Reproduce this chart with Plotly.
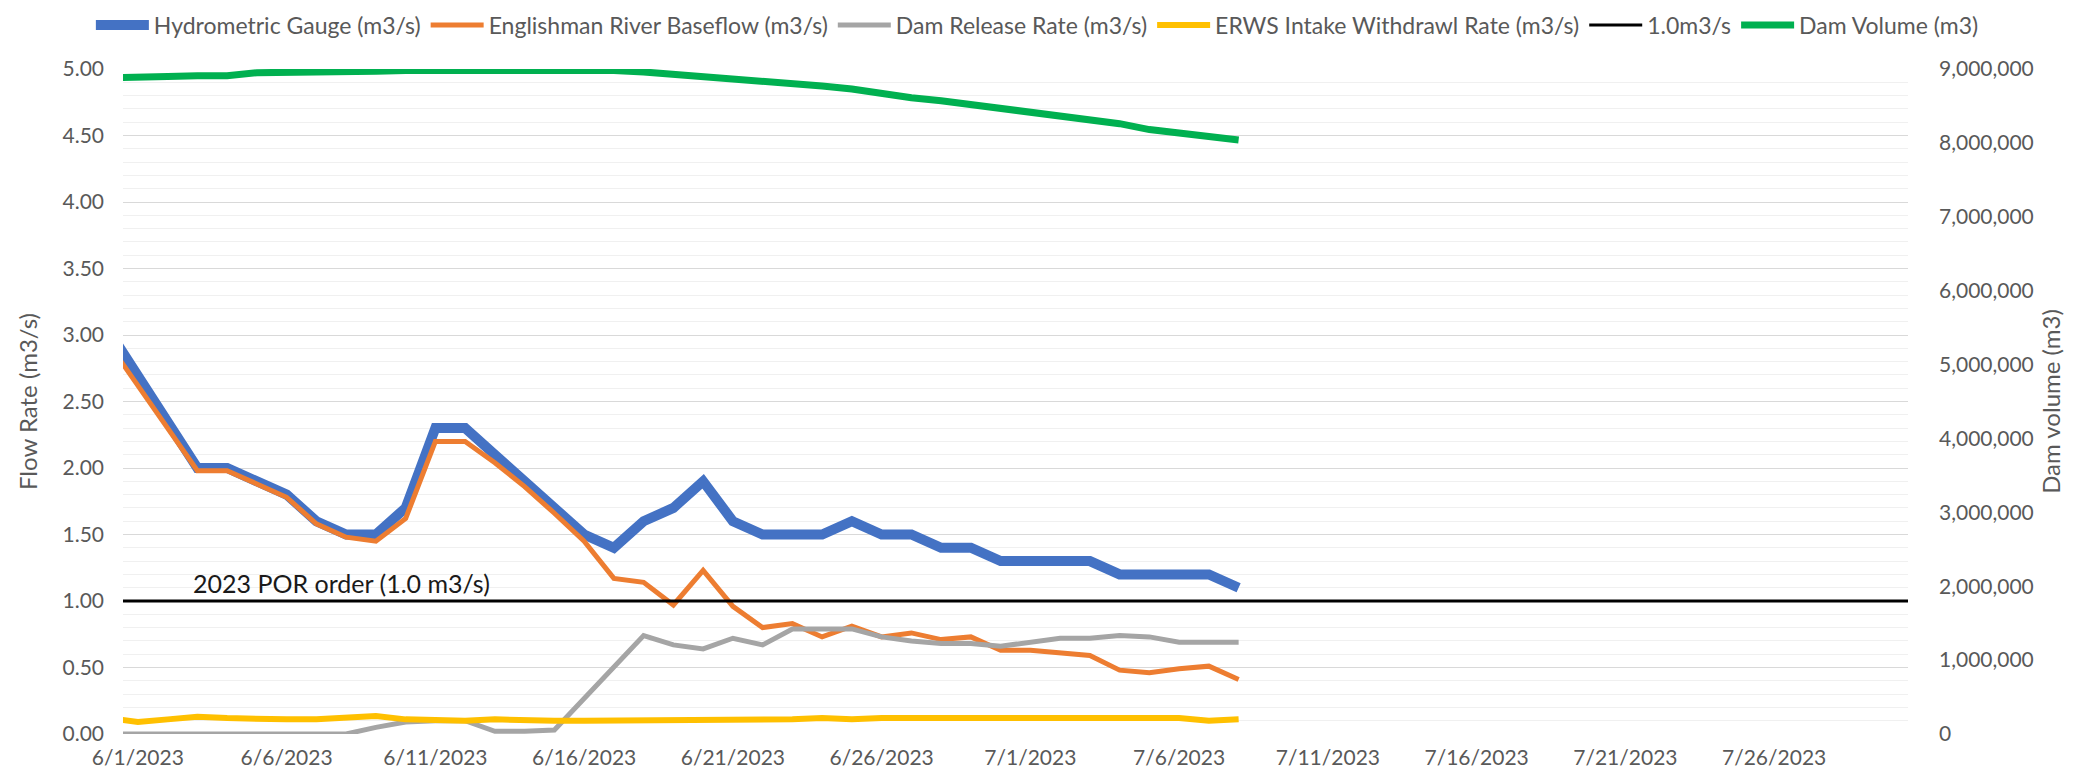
import pandas as pd
import plotly.graph_objects as go

# ---- data ----
dates = pd.date_range("2023-05-31", "2023-07-08", freq="D")

hydrometric = [3.04, 2.70, 2.35, 2.00, 2.00, 1.90, 1.80, 1.60, 1.50, 1.50,
               1.70, 2.30, 2.30, 2.10, 1.90, 1.70, 1.50, 1.40, 1.60, 1.70,
               1.90, 1.60, 1.50, 1.50, 1.50, 1.60, 1.50, 1.50, 1.40, 1.40,
               1.30, 1.30, 1.30, 1.30, 1.20, 1.20, 1.20, 1.20, 1.10]

baseflow = [2.94, 2.62, 2.30, 1.98, 1.98, 1.88, 1.78, 1.58, 1.48, 1.45,
            1.62, 2.20, 2.20, 2.04, 1.86, 1.66, 1.45, 1.17, 1.14, 0.97,
            1.23, 0.96, 0.80, 0.83, 0.73, 0.81, 0.73, 0.76, 0.71, 0.73,
            0.63, 0.63, 0.61, 0.59, 0.48, 0.46, 0.49, 0.51, 0.41]

dam_release = [0.00, 0.00, 0.00, 0.00, 0.00, 0.00, 0.00, 0.00, 0.00, 0.05,
               0.09, 0.10, 0.10, 0.02, 0.02, 0.03, 0.27, 0.50, 0.74, 0.67,
               0.64, 0.72, 0.67, 0.79, 0.79, 0.79, 0.73, 0.70, 0.68, 0.68,
               0.66, 0.69, 0.72, 0.72, 0.74, 0.73, 0.69, 0.69, 0.69]

intake = [0.12, 0.09, 0.11, 0.13, 0.12, 0.11, 0.11, 0.11, 0.12, 0.135,
          0.11, 0.10, 0.10, 0.11, 0.10, 0.10, 0.10, 0.10, 0.11, 0.10,
          0.10, 0.11, 0.11, 0.11, 0.12, 0.11, 0.12, 0.12, 0.12, 0.13,
          0.12, 0.13, 0.12, 0.12, 0.12, 0.13, 0.12, 0.10, 0.11]

dam_volume = [8.88e6, 8.88e6, 8.90e6, 8.91e6, 8.91e6, 8.95e6, 8.95e6, 8.95e6, 8.96e6, 8.97e6,
              8.98e6, 8.98e6, 8.98e6, 8.98e6, 8.99e6, 8.99e6, 8.99e6, 8.98e6, 8.96e6, 8.93e6,
              8.90e6, 8.88e6, 8.85e6, 8.81e6, 8.77e6, 8.73e6, 8.66e6, 8.61e6, 8.57e6, 8.52e6,
              8.47e6, 8.40e6, 8.35e6, 8.31e6, 8.26e6, 8.18e6, 8.13e6, 8.10e6, 8.04e6]

threshold_dates = ["2023-05-31", "2023-07-31"]
threshold_values = [1.0, 1.0]

names = ["Hydrometric Gauge (m3/s)", "Englishman River Baseflow (m3/s)",
         "Dam Release Rate (m3/s)", "ERWS Intake Withdrawl Rate (m3/s)",
         "1.0m3/s", "Dam Volume (m3)"]

FONT = "Lato"
GREY_TXT = "#595959"

fig = go.Figure()
fig.add_trace(go.Scatter(x=dates, y=hydrometric, name=names[0], mode="lines",
                         line=dict(color="#4472C4", width=10)))
fig.add_trace(go.Scatter(x=dates, y=baseflow, name=names[1], mode="lines",
                         line=dict(color="#ED7D31", width=5)))
fig.add_trace(go.Scatter(x=dates, y=dam_release, name=names[2], mode="lines",
                         line=dict(color="#A5A5A5", width=5)))
fig.add_trace(go.Scatter(x=dates, y=intake, name=names[3], mode="lines",
                         line=dict(color="#FFC000", width=6)))
fig.add_trace(go.Scatter(x=threshold_dates, y=threshold_values, name=names[4], mode="lines",
                         line=dict(color="#000000", width=3)))
fig.add_trace(go.Scatter(x=dates, y=dam_volume, name=names[5], mode="lines", yaxis="y2",
                         line=dict(color="#00B050", width=7)))

fig.add_annotation(text="2023 POR order (1.0 m3/s)", xref="paper", x=0.038, xanchor="left",
                   yref="y", y=1.0, yanchor="bottom", yshift=1, showarrow=False,
                   font=dict(family=FONT, size=25, color="#1a1a1a"))

# the page body adds an 8px offset, so the figure is 8px smaller and margins shifted
fig.update_layout(
    width=2073, height=769,
    margin=dict(l=115, r=173, t=61, b=43, autoexpand=False),
    paper_bgcolor="white", plot_bgcolor="white",
    font=dict(family=FONT, size=21, color=GREY_TXT),
    showlegend=True,
    legend=dict(orientation="h", xref="paper", yref="paper",
                x=-0.018, xanchor="left", y=1.0662, yanchor="middle",
                itemwidth=53,
                font=dict(family=FONT, size=23, color=GREY_TXT),
                bgcolor="rgba(0,0,0,0)"),
    xaxis=dict(type="date", range=["2023-05-31 12:00", "2023-07-30 12:00"],
               tick0="2023-06-01", dtick=5 * 86400000, tickformat="%-m/%-d/%Y",
               showgrid=False, zeroline=False, showline=False, ticks="",
               ticklabelstandoff=9,
               tickfont=dict(family=FONT, size=21, color=GREY_TXT)),
    yaxis=dict(range=[0, 5], dtick=0.5, tickformat=".2f",
               showgrid=True, gridcolor="#d9d9d9", gridwidth=1,
               minor=dict(dtick=0.1, showgrid=True, gridcolor="#f0f0f0", gridwidth=1),
               zeroline=False, showline=False, ticks="", ticklabelstandoff=18,
               title=dict(text="Flow Rate (m3/s)", standoff=18,
                          font=dict(family=FONT, size=24, color=GREY_TXT)),
               tickfont=dict(family=FONT, size=21, color=GREY_TXT)),
    yaxis2=dict(range=[0, 9e6], dtick=1e6, tickformat=",", overlaying="y", side="right",
                showgrid=False, zeroline=False, showline=False, ticks="",
                ticklabelstandoff=30,
                title=dict(text="Dam volume (m3)", standoff=10,
                           font=dict(family=FONT, size=24, color=GREY_TXT)),
                tickfont=dict(family=FONT, size=21, color=GREY_TXT)),
)

fig.write_html("out.html")
